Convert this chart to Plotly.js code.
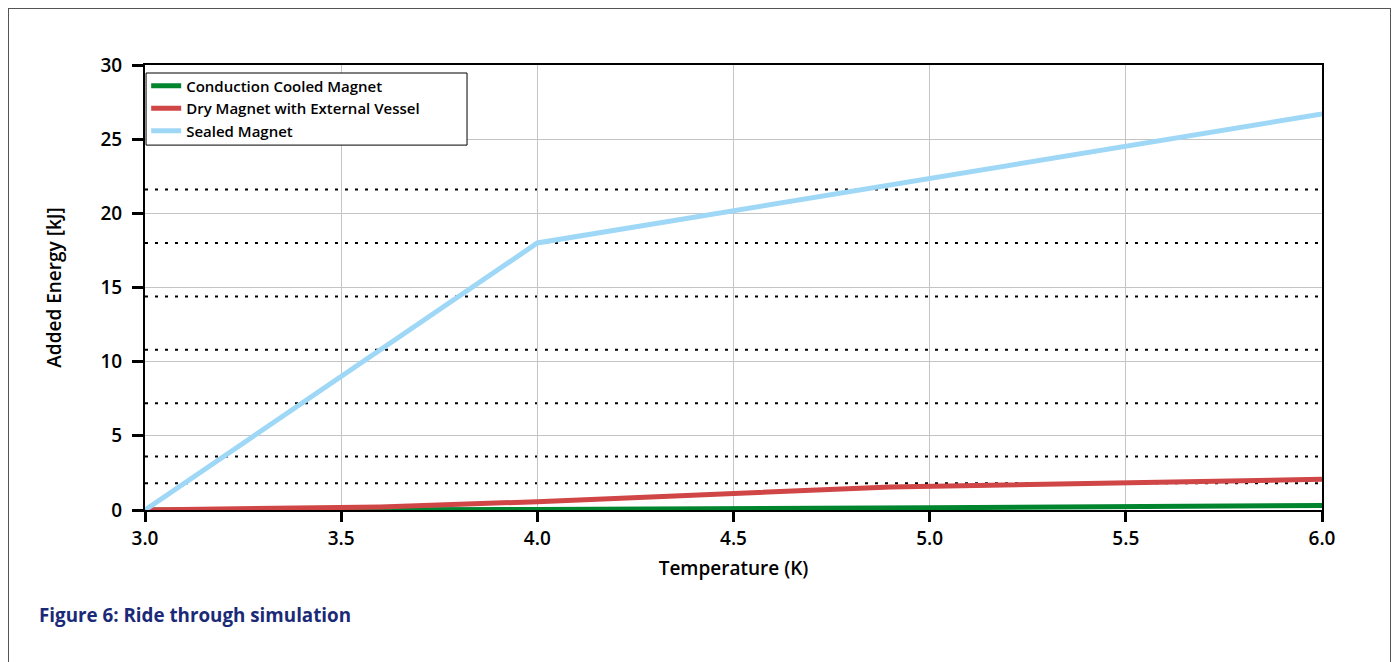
<!DOCTYPE html>
<html>
<head>
<meta charset="utf-8">
<script src="https://cdn.plot.ly/plotly-3.0.1.min.js"></script>
<style>
  html, body { margin: 0; padding: 0; background: #fff; }
  #wrap { position: relative; width: 1394px; height: 662px; }
  #chart { position: absolute; left: 0; top: 0; width: 1394px; height: 662px; }
  #frame { position: absolute; left: 8px; top: 8px; width: 1383px; height: 670px;
           border: 1px solid #555; pointer-events: none; box-sizing: border-box; }
</style>
</head>
<body>
<div id="wrap">
  <div id="chart"></div>
  <div id="frame"></div>
</div>
<script>
// ---- data ----
const sealedT      = [3.0, 4.0, 6.0];
const sealedE      = [0.0, 18.0, 26.7];

const dryT         = [3.0, 3.6, 4.0, 4.9, 6.0];
const dryE         = [0.0, 0.2, 0.56, 1.55, 2.07];

const conductionT  = [3.0, 4.0, 5.0, 6.0];
const conductionE  = [0.0, 0.03, 0.15, 0.3];

const referenceLevels = [1.8, 3.6, 7.2, 10.8, 14.4, 18.0, 21.6];

const seriesNames = ["Conduction Cooled Magnet", "Dry Magnet with External Vessel", "Sealed Magnet"];
const xTicks = [3.0, 3.5, 4.0, 4.5, 5.0, 5.5, 6.0];
const yTicks = [0, 5, 10, 15, 20, 25, 30];

const FONT = "'Open Sans', 'Noto Sans', sans-serif";

const traces = [
  { x: conductionT, y: conductionE, name: seriesNames[0], mode: "lines",
    line: { color: "#00852f", width: 5 } },
  { x: dryT, y: dryE, name: seriesNames[1], mode: "lines",
    line: { color: "#d04545", width: 5 } },
  { x: sealedT, y: sealedE, name: seriesNames[2], mode: "lines",
    line: { color: "#9fd8f7", width: 5 } }
];

const shapes = referenceLevels.map(v => ({
  type: "line", xref: "paper", x0: 0, x1: 1, yref: "y", y0: v, y1: v,
  layer: "below", line: { color: "#000", width: 2, dash: "3px,7px" }
}));
// legend frame box
shapes.push({
  type: "rect", xref: "paper", yref: "paper", x0: 0.0009, x1: 0.2736, y0: 0.820, y1: 0.982,
  layer: "above", fillcolor: "#fff", line: { color: "#000", width: 1 }
});

const layout = {
  width: 1394, height: 662,
  margin: { l: 145, r: 72, t: 65, b: 152 },
  paper_bgcolor: "#fff", plot_bgcolor: "#fff",
  font: { family: FONT, color: "#000", size: 19 },
  showlegend: true,
  legend: {
    x: 0.001, y: 0.99, xanchor: "left", yanchor: "top",
    bgcolor: "rgba(0,0,0,0)", borderwidth: 0,
    font: { family: FONT, size: 15, weight: 600, color: "#000" },
    tracegroupgap: 0, itemwidth: 30
  },
  xaxis: {
    range: [3, 6], tickvals: xTicks, ticktext: xTicks.map(v => v.toFixed(1)),
    showgrid: true, gridcolor: "#c4c4c4", gridwidth: 1,
    zeroline: false, showline: true, linecolor: "#000", linewidth: 2, mirror: true,
    ticks: "outside", ticklen: 10, tickwidth: 3, tickcolor: "#000",
    tickfont: { family: FONT, size: 19, weight: 600 },
    title: { text: "Temperature (K)", font: { family: FONT, size: 19, weight: 600 }, standoff: 12 }
  },
  yaxis: {
    range: [0, 30], tickvals: yTicks,
    showgrid: true, gridcolor: "#c4c4c4", gridwidth: 1,
    zeroline: false, showline: true, linecolor: "#000", linewidth: 2, mirror: true,
    ticks: "outside", ticklen: 11, tickwidth: 3, tickcolor: "#000", ticklabelstandoff: 6,
    tickfont: { family: FONT, size: 19, weight: 600 },
    title: { text: "Added Energy [kJ]", font: { family: FONT, size: 19, weight: 600 }, standoff: 34 }
  },
  shapes: shapes,
  annotations: [{
    text: "Figure 6: Ride through simulation", showarrow: false,
    xref: "paper", yref: "paper", x: -0.0915, y: -0.236, xanchor: "left", yanchor: "middle",
    font: { family: FONT, size: 18.8, weight: 700, color: "#1b2a78" }
  }]
};

Plotly.newPlot("chart", traces, layout, { displayModeBar: false, staticPlot: true });
</script>
</body>
</html>
